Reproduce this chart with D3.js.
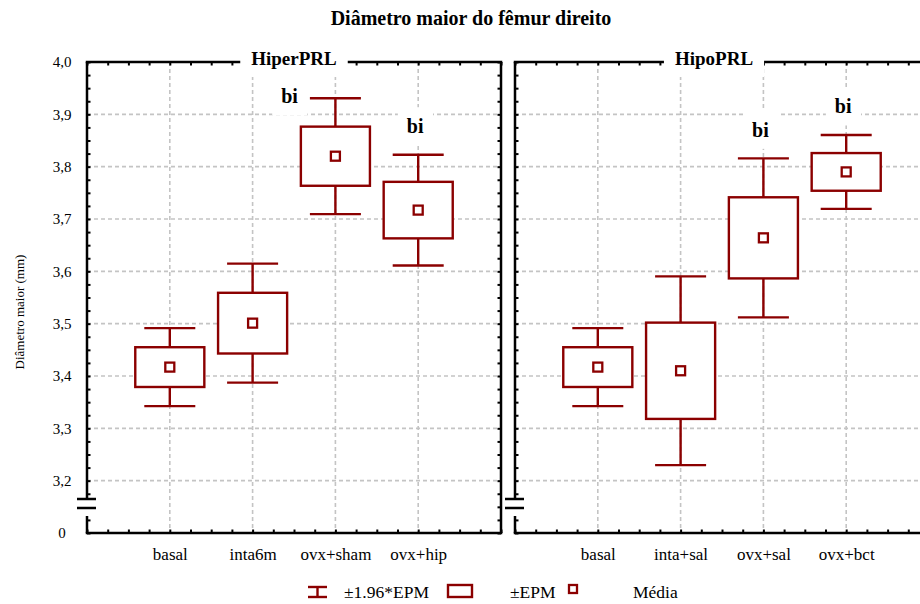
<!DOCTYPE html>
<html>
<head>
<meta charset="utf-8">
<script src="https://cdn.jsdelivr.net/npm/d3@7/dist/d3.min.js"></script>
<style>
  html, body { margin: 0; padding: 0; background: #fff; }
  svg { display: block; }
  svg text { font-family: "Liberation Serif", "Times New Roman", Times, serif !important; fill: #000; }
</style>
</head>
<body>
<svg id="chart" width="920" height="604" font-family="Liberation Serif, Times New Roman, serif"></svg>
<script>
// Diâmetro maior do fêmur direito — média, EPM and 1.96*EPM per group
const groupsHiper  = ["basal", "inta6m", "ovx+sham", "ovx+hip"];
const meanHiper    = [3.417, 3.501, 3.820, 3.717];
const epmHiper     = [0.038, 0.058, 0.0565, 0.054];
const signifHiper  = ["", "", "bi", "bi"];

const groupsHipo   = ["basal", "inta+sal", "ovx+sal", "ovx+bct"];
const meanHipo     = [3.417, 3.410, 3.664, 3.790];
const epmHipo      = [0.038, 0.092, 0.0775, 0.036];
const signifHipo   = ["", "", "bi", "bi"];

const panelTitles  = ["HiperPRL", "HipoPRL"];
const yTickValues  = [3.1, 3.2, 3.3, 3.4, 3.5, 3.6, 3.7, 3.8, 3.9, 4.0];
const yTickLabels  = ["0", "3,2", "3,3", "3,4", "3,5", "3,6", "3,7", "3,8", "3,9", "4,0"];
const legendLabels = ["±1.96*EPM", "±EPM", "Média"];
const chartTitle   = "Diâmetro maior do fêmur direito";
const yAxisTitle   = "Diâmetro maior (mm)";

// ---- layout ----
const W = 920, H = 604;
const plotTop = 62, plotBottom = 533;
const panelW = 414;
const RED = "#8b0000";
const GRID = "#c4c4c4";
const SERIF = "'Liberation Serif', 'Times New Roman', Times, serif";
const breakTop = 498, breakBottom = 516;   // gap in the left axis line
const Z = 1.96;

const panels = [
  { left: 87,  titleCx: 294, title: panelTitles[0], groups: groupsHiper, mean: meanHiper, epm: epmHiper, sig: signifHiper },
  { left: 515, titleCx: 714, title: panelTitles[1], groups: groupsHipo,  mean: meanHipo,  epm: epmHipo,  sig: signifHipo }
];

const svg = d3.select("#chart");
svg.append("rect").attr("width", W).attr("height", H).attr("fill", "#fff");

const y = d3.scaleLinear().domain([3.1, 4.0]).range([plotBottom, plotTop]);
const yMinor = d3.range(0, 37).map(i => +(3.1 + i * 0.025).toFixed(3));
const xMinor = d3.range(0, 21).map(i => i * 0.25);

// chart title
svg.append("text")
  .attr("x", 471).attr("y", 25)
  .attr("text-anchor", "middle")
  .attr("font-size", 20).attr("font-weight", "bold")
  .text(chartTitle);

// y axis title
svg.append("text")
  .attr("transform", "translate(19,312) rotate(-90)")
  .attr("text-anchor", "middle")
  .attr("dy", "0.35em")
  .attr("font-size", 13)
  .text(yAxisTitle);

panels.forEach((p, pi) => {
  const x = d3.scaleLinear().domain([0, 5]).range([p.left, p.left + panelW]);
  const slot = x(1) - x(0);
  const boxHalf = slot * 0.417;
  const capHalf = slot * 0.308;
  const g = svg.append("g");

  // dashed grid
  const grid = g.append("g")
    .attr("stroke", GRID).attr("stroke-width", 1.6).attr("stroke-dasharray", "4,3");
  grid.selectAll("line.h")
    .data(yTickValues.filter(v => v > 3.15 && v < 3.95))
    .join("line").attr("class", "h")
    .attr("x1", x(0)).attr("x2", x(5))
    .attr("y1", d => y(d)).attr("y2", d => y(d));
  grid.selectAll("line.v")
    .data(d3.range(1, p.groups.length + 1))
    .join("line").attr("class", "v")
    .attr("x1", d => x(d)).attr("x2", d => x(d))
    .attr("y1", plotTop).attr("y2", plotBottom);

  // significance labels, each on a white patch
  p.groups.forEach((grp, i) => {
    if (!p.sig[i]) return;
    const cx = x(i + 1);
    const hiY = y(p.mean[i] + Z * p.epm[i]);
    const t = g.append("text")
      .attr("font-size", 20).attr("font-weight", "bold")
      .text(p.sig[i]);
    if (hiY - 21.5 - 15 < plotTop + 6) {
      // no room above the whisker: set it beside the cap
      t.attr("x", cx - capHalf - 12).attr("y", hiY + 5).attr("text-anchor", "end");
    } else {
      t.attr("x", cx - 3).attr("y", hiY - 21.5).attr("text-anchor", "middle");
    }
    const bb = t.node().getBBox();
    g.insert("rect", () => t.node())
      .attr("x", bb.x - 9).attr("y", bb.y - 8)
      .attr("width", bb.width + 18).attr("height", bb.height + 16)
      .attr("fill", "#fff");
  });

  // boxes: whisker = ±1.96*EPM, box = ±EPM, square = média
  const items = g.append("g").selectAll("g")
    .data(p.groups.map((grp, i) => ({ i, m: p.mean[i], e: p.epm[i] })))
    .join("g");
  items.append("line")
    .attr("x1", d => x(d.i + 1)).attr("x2", d => x(d.i + 1))
    .attr("y1", d => y(d.m + Z * d.e)).attr("y2", d => y(d.m - Z * d.e))
    .attr("stroke", RED).attr("stroke-width", 2.4);
  [1, -1].forEach(s => {
    items.append("line")
      .attr("x1", d => x(d.i + 1) - capHalf).attr("x2", d => x(d.i + 1) + capHalf)
      .attr("y1", d => y(d.m + s * Z * d.e)).attr("y2", d => y(d.m + s * Z * d.e))
      .attr("stroke", RED).attr("stroke-width", 2.4);
  });
  items.append("rect")
    .attr("x", d => x(d.i + 1) - boxHalf).attr("width", boxHalf * 2)
    .attr("y", d => y(d.m + d.e)).attr("height", d => y(d.m - d.e) - y(d.m + d.e))
    .attr("fill", "#fff").attr("stroke", RED).attr("stroke-width", 2.4);
  items.append("rect")
    .attr("x", d => x(d.i + 1) - 4.5).attr("y", d => y(d.m) - 4.5)
    .attr("width", 9).attr("height", 9)
    .attr("fill", "#fff").attr("stroke", RED).attr("stroke-width", 2.3);

  // inward minor ticks on all four sides
  const tickStyle = sel => {
    sel.select(".domain").remove();
    sel.selectAll(".tick line").attr("stroke", "#000").attr("stroke-width", 2);
    sel.selectAll(".tick text").remove();
  };
  g.append("g").attr("transform", `translate(${x(0)},0)`)
    .call(d3.axisRight(y).tickValues(yMinor.filter(v => y(v) < breakTop - 2 || y(v) > breakBottom + 2)).tickSize(3.5))
    .call(tickStyle);
  g.append("g").attr("transform", `translate(${x(5)},0)`)
    .call(d3.axisLeft(y).tickValues(yMinor).tickSize(3.5))
    .call(tickStyle);
  g.append("g").attr("transform", `translate(0,${plotTop})`)
    .call(d3.axisBottom(x).tickValues(xMinor).tickSize(3.5))
    .call(tickStyle);
  g.append("g").attr("transform", `translate(0,${plotBottom})`)
    .call(d3.axisTop(x).tickValues(xMinor).tickSize(3.5))
    .call(tickStyle);

  // frame with a broken left axis
  const frame = g.append("g").attr("stroke", "#000").attr("stroke-width", 2.5).attr("fill", "none");
  frame.append("line").attr("x1", x(0) - 1.25).attr("x2", x(5) + 1.25).attr("y1", plotTop).attr("y2", plotTop);
  frame.append("line").attr("x1", x(0) - 1.25).attr("x2", x(5) + 1.25).attr("y1", plotBottom).attr("y2", plotBottom);
  frame.append("line").attr("x1", x(5)).attr("x2", x(5)).attr("y1", plotTop).attr("y2", plotBottom);
  frame.append("line").attr("x1", x(0)).attr("x2", x(0)).attr("y1", plotTop).attr("y2", breakTop);
  frame.append("line").attr("x1", x(0)).attr("x2", x(0)).attr("y1", breakBottom).attr("y2", plotBottom);
  frame.append("line").attr("x1", x(0) - 10).attr("x2", x(0) + 9).attr("y1", breakTop + 1).attr("y2", breakTop + 1);
  frame.append("line").attr("x1", x(0) - 10).attr("x2", x(0) + 9).attr("y1", breakTop + 10).attr("y2", breakTop + 10);

  // y tick labels (left panel only)
  if (pi === 0) {
    const ya = g.append("g").attr("transform", `translate(${x(0)},0)`)
      .call(d3.axisLeft(y).tickValues(yTickValues).tickFormat((d, i) => yTickLabels[i]).tickSize(0))
      .attr("font-family", SERIF);
    ya.select(".domain").remove();
    ya.selectAll(".tick text")
      .attr("x", -25).attr("text-anchor", "middle").attr("dy", "0.33em")
      .attr("font-size", 15).style("font-family", SERIF).attr("fill", "#000");
  }

  // group names
  const xa = g.append("g").attr("transform", `translate(0,${plotBottom})`)
    .call(d3.axisBottom(x).tickValues(d3.range(1, p.groups.length + 1))
      .tickFormat(d => p.groups[d - 1]).tickSize(0))
    .attr("font-family", SERIF);
  xa.select(".domain").remove();
  xa.selectAll(".tick text")
    .attr("y", 27).attr("dy", 0)
    .attr("font-size", 17).style("font-family", SERIF).attr("fill", "#000");

  // panel title breaking the top edge
  const tt = g.append("text")
    .attr("x", p.titleCx).attr("y", 65)
    .attr("text-anchor", "middle")
    .attr("font-size", 19).attr("font-weight", "bold")
    .text(p.title);
  const tb = tt.node().getBBox();
  g.insert("rect", () => tt.node())
    .attr("x", tb.x - 11).attr("y", 50)
    .attr("width", tb.width + 22).attr("height", 27)
    .attr("fill", "#fff");
});

// legend
const lg = svg.append("g");
const lgY = 592;
lg.append("line").attr("x1", 317.5).attr("x2", 317.5).attr("y1", lgY - 5).attr("y2", lgY + 5)
  .attr("stroke", RED).attr("stroke-width", 2.4);
[-5, 5].forEach(dy => lg.append("line")
  .attr("x1", 308).attr("x2", 327).attr("y1", lgY + dy).attr("y2", lgY + dy)
  .attr("stroke", RED).attr("stroke-width", 2.4));
lg.append("text").attr("x", 344).attr("y", 598).attr("font-size", 17.5).text(legendLabels[0]);
lg.append("rect").attr("x", 448).attr("y", 585).attr("width", 24).attr("height", 12)
  .attr("fill", "#fff").attr("stroke", RED).attr("stroke-width", 2.4);
lg.append("text").attr("x", 510).attr("y", 598).attr("font-size", 17.5).text(legendLabels[1]);
lg.append("rect").attr("x", 569).attr("y", 585).attr("width", 8).attr("height", 8)
  .attr("fill", "#fff").attr("stroke", RED).attr("stroke-width", 2.3);
lg.append("text").attr("x", 633).attr("y", 598).attr("font-size", 17.5).text(legendLabels[2]);
</script>
</body>
</html>
